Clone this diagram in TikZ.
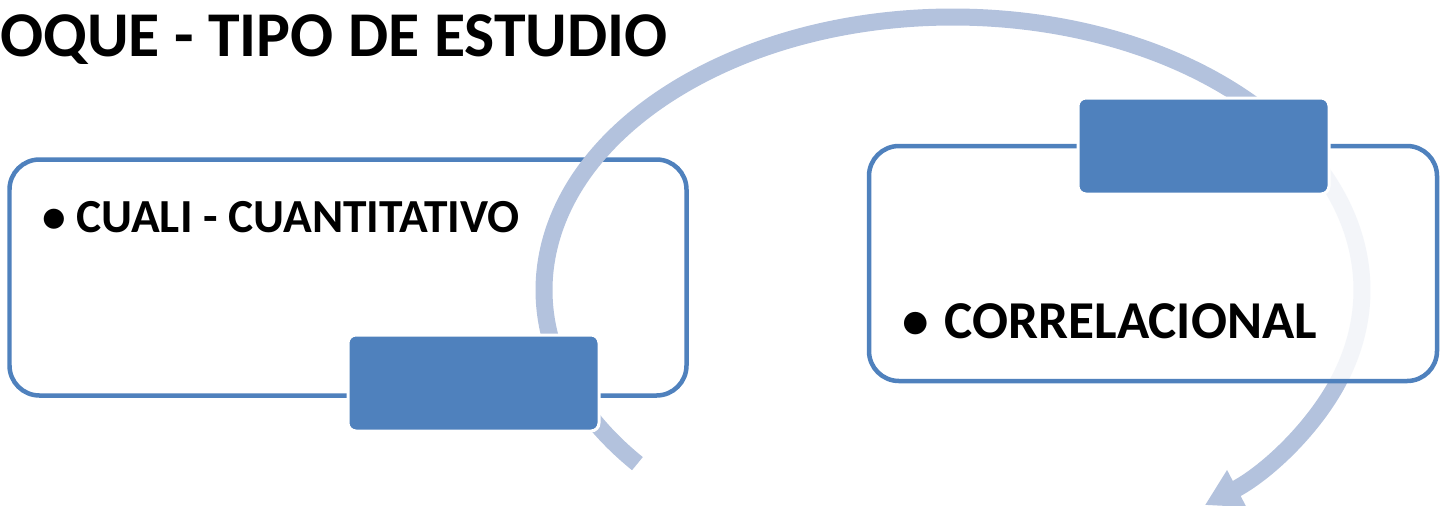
\documentclass[tikz,border=0pt]{standalone}
\usepackage{fontspec}
\setmainfont{Carlito}
\usepackage{tikz}
\usetikzlibrary{arrows.meta}
\definecolor{boxblue}{HTML}{4F81BD}
\definecolor{arcblue}{HTML}{B3C2DD}

\begin{document}
\begin{tikzpicture}[x=0.02cm,y=-0.02cm,
  bigbox/.style={draw=boxblue,line width=0.09cm,rounded corners=0.6cm},
  tabbox/.style={fill=boxblue,draw=white,line width=0.06cm,rounded corners=0.16cm},
  bigarrow/.style={arcblue,line width=0.34cm,-{Triangle[length=0.72cm,width=0.78cm]}}]
\useasboundingbox (0,0) rectangle (1441,505);
% centre and radii of the cycle arrow
\def\Rx{409}
\def\Ry{273}
  \path
    (9.5,159.5) coordinate (L1)
    (686.5,395.5) coordinate (L2)
    (348,335) coordinate (LT1)
    (599,431) coordinate (LT2)
    (869,146) coordinate (R1)
    (1437,381) coordinate (R2)
    (1078,98) coordinate (RT1)
    (1329,194) coordinate (RT2)
    (953,290) coordinate (C)
  ;
\draw[bigbox,fill=white] (L1) rectangle (L2);
\draw[bigarrow] (C) ++(140.5:409 and 273)
  arc[start angle=140.5,end angle=412,x radius=\Rx,y radius=\Ry];
\draw[tabbox] (LT1) rectangle (LT2);
\draw[bigbox,fill=white,fill opacity=0.85] (R1) rectangle (R2);
\draw[tabbox] (RT1) rectangle (RT2);

\node[anchor=base west,inner sep=0,font=\bfseries\fontsize{36.3}{40}\selectfont] (title) at (0,56) {OQUE - TIPO DE ESTUDIO};
\node[anchor=base west,inner sep=0,font=\bfseries\fontsize{27}{30}\selectfont] (cuali) at (42,232) {\textbullet\hspace{0.22em}CUALI - CUANTITATIVO};
\node[anchor=base west,inner sep=0,font=\bfseries\fontsize{30.3}{34}\selectfont] (correl) at (902,338) {\textbullet\hspace{0.3em}CORRELACIONAL};
\end{tikzpicture}
\end{document}
